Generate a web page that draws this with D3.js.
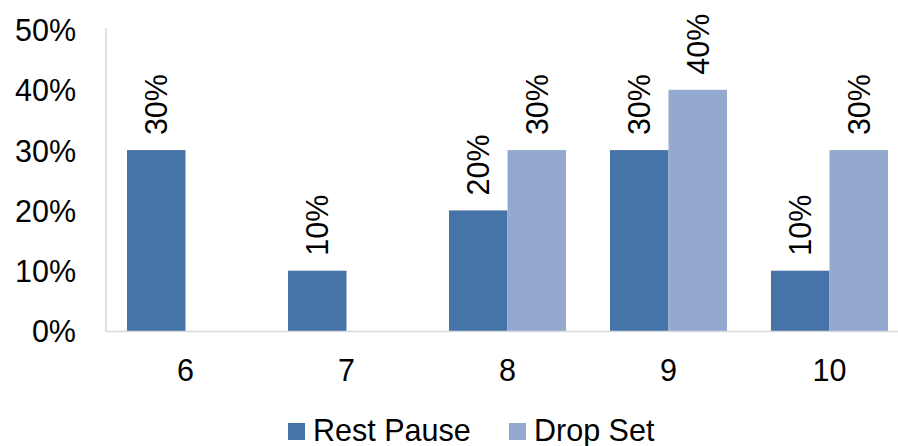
<!DOCTYPE html>
<html>
<head>
<meta charset="utf-8">
<script src="https://cdn.jsdelivr.net/npm/d3@7"></script>
<style>
  html, body { margin: 0; padding: 0; background: #fff; }
  svg { display: block; font-family: "Liberation Sans", Arial, sans-serif; }
</style>
</head>
<body>
<svg id="chart" width="898" height="446"></svg>
<script>
// Categories and series (share of sets, in %)
const categories = ["6", "7", "8", "9", "10"];
const restPause = [30, 10, 20, 30, 10];
const dropSet = [null, null, 30, 40, 30];
const seriesNames = ["Rest Pause", "Drop Set"];
const seriesColors = ["#4674A8", "#93A9D0"];
const yTicks = [0, 10, 20, 30, 40, 50];

const svg = d3.select("#chart");
const fontSize = 30.5;

// Plot area (the last group runs past the right edge of the canvas)
const plotLeft = 105, plotRight = 910, plotTop = 29.5, plotBottom = 331;

const x = d3.scaleBand()
  .domain(categories)
  .range([plotLeft, plotRight])
  .paddingInner(0.273)
  .paddingOuter(0.1365);

const xSub = d3.scaleBand()
  .domain(seriesNames)
  .range([0, x.bandwidth()]);

const y = d3.scaleLinear().domain([0, 50]).range([plotBottom, plotTop]);

// Y axis: labels only, with a light vertical rule
const yAxis = d3.axisLeft(y)
  .tickValues(yTicks)
  .tickFormat(d => d + "%")
  .tickSize(0)
  .tickPadding(0);

const yg = svg.append("g")
  .attr("transform", `translate(76,0)`)
  .call(yAxis);
yg.select(".domain").remove();
yg.selectAll("text")
  .attr("font-size", fontSize)
  .attr("font-family", "Liberation Sans, Arial, sans-serif")
  .attr("fill", "#000")
  .attr("dy", "0.36em");

svg.append("line")
  .attr("x1", plotLeft + 1).attr("x2", plotLeft + 1)
  .attr("y1", y(50) - 1.5).attr("y2", plotBottom)
  .attr("stroke", "#D9D9D9").attr("stroke-width", 1.5);

// Bars
const rows = categories.map((c, i) => ({
  cat: c,
  values: [
    { name: seriesNames[0], v: restPause[i], color: seriesColors[0] },
    { name: seriesNames[1], v: dropSet[i], color: seriesColors[1] }
  ]
}));

const groups = svg.append("g")
  .selectAll("g")
  .data(rows)
  .join("g")
  .attr("transform", d => `translate(${x(d.cat)},0)`);

groups.selectAll("rect")
  .data(d => d.values.filter(v => v.v !== null))
  .join("rect")
  .attr("x", d => xSub(d.name))
  .attr("y", d => y(d.v))
  .attr("width", xSub.bandwidth())
  .attr("height", d => y(0) - y(d.v))
  .attr("fill", d => d.color);

// Value labels, rotated above each bar
groups.selectAll("text.val")
  .data(d => d.values.filter(v => v.v !== null))
  .join("text")
  .attr("class", "val")
  .attr("transform", d => `translate(${xSub(d.name) + xSub.bandwidth() / 2},${y(d.v) - 15}) rotate(-90)`)
  .attr("dy", "0.36em")
  .attr("text-anchor", "start")
  .attr("font-size", fontSize)
  .attr("fill", "#000")
  .text(d => d.v + "%");

// X axis baseline and category labels
svg.append("line")
  .attr("x1", plotLeft).attr("x2", plotRight)
  .attr("y1", plotBottom + 0.5).attr("y2", plotBottom + 0.5)
  .attr("stroke", "#D9D9D9").attr("stroke-width", 1.5);

const xAxis = d3.axisBottom(x).tickSize(0).tickPadding(0);
const xg = svg.append("g")
  .attr("transform", `translate(0,${plotBottom})`)
  .call(xAxis);
xg.select(".domain").remove();
xg.selectAll("text")
  .attr("font-size", fontSize)
  .attr("font-family", "Liberation Sans, Arial, sans-serif")
  .attr("fill", "#000")
  .attr("y", 50)
  .attr("dy", 0);

// Legend
const legendItems = [
  { name: seriesNames[0], color: seriesColors[0], x: 288 },
  { name: seriesNames[1], color: seriesColors[1], x: 509 }
];
const lg = svg.append("g")
  .selectAll("g")
  .data(legendItems)
  .join("g")
  .attr("transform", d => `translate(${d.x},423)`);
lg.append("rect")
  .attr("width", 17).attr("height", 17)
  .attr("fill", d => d.color);
lg.append("text")
  .attr("x", 25)
  .attr("y", 18)
  .attr("font-size", fontSize)
  .attr("fill", "#000")
  .text(d => d.name);
</script>
</body>
</html>
